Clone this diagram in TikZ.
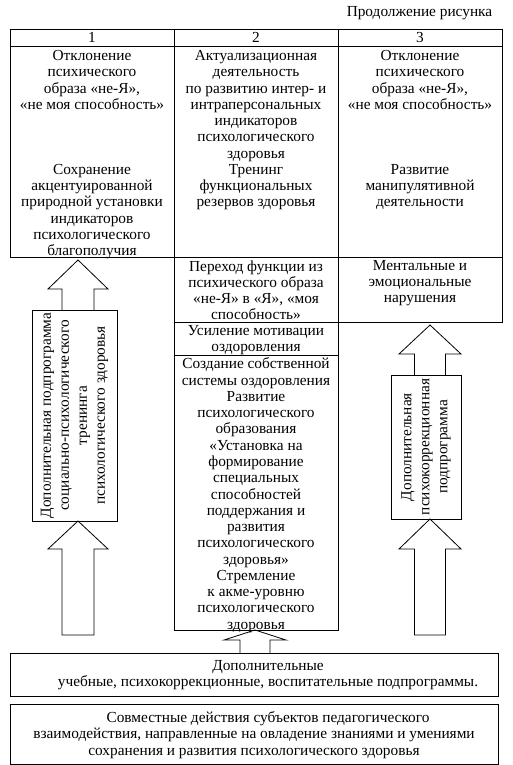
\documentclass[tikz,border=0pt]{standalone}
\usepackage{fontspec}
\setmainfont{Liberation Serif}
\usetikzlibrary{positioning}

\begin{document}
\begin{tikzpicture}[x=0.75pt, y=-0.75pt, line width=0.6pt,
    celltext/.style={align=center, inner sep=0pt, anchor=north,
        font=\fontsize{11.5}{12.2}\selectfont},
    sidetext/.style={align=center, inner sep=0pt, rotate=90,
        font=\fontsize{11.5}{13.5}\selectfont}]

\useasboundingbox (0,0) rectangle (512,765);

% Macro: hollow block arrow pointing up (cx, tip, head base, tail, head half, shaft half, end)
\newcommand{\blockarrow}[7]{
\begin{scope}[shift={(#1,0)}]
    \draw (-#6,#4) -- (-#6,#3) -- (-#5,#3) -- (0,#2) -- (#5,#3) -- (#6,#3) -- (#6,#4) #7;
\end{scope}
}

% Title
\node[celltext, anchor=center] (title) at (419.5,13) {Продолжение рисунка};

% Table frame
\draw (10,29) rectangle (502,46);
\draw (10,46) rectangle (502,257);
\foreach \x in {174, 338} {
    \draw (\x,29) -- (\x,257);
}
\foreach \n/\x in {1/92, 2/256, 3/420} {
    \node[celltext, anchor=center] (head\n) at (\x,37.5) {\n};
}

% First row
\node[celltext] (c1top) at (92,50) {Отклонение\\психического\\образа «не-Я»,\\«не моя способность»\\[3\baselineskip]Сохранение\\акцентуированной\\природной установки\\индикаторов\\психологического\\благополучия};
\node[celltext] (c2top) at (256,50) {Актуализационная\\деятельность\\по развитию интер- и\\интраперсональных\\индикаторов\\психологического\\здоровья\\Тренинг\\функциональных\\резервов здоровья};
\node[celltext] (c3top) at (420,50) {Отклонение\\психического\\образа «не-Я»,\\«не моя способность»\\[3\baselineskip]Развитие\\манипулятивной\\деятельности};

% Middle column
\draw (174,257) rectangle (338,630);
\draw (174,322) -- (338,322);
\draw (174,355) -- (338,355);
\node[celltext] (shift) at (256,260) {Переход функции из\\психического образа\\«не-Я» в «Я», «моя\\способность»};
\node[celltext] (motiv) at (256,325) {Усиление мотивации\\оздоровления};
\node[celltext] (own) at (256,357.5) {Создание собственной\\системы оздоровления\\Развитие\\психологического\\образования\\«Установка на\\формирование\\специальных\\способностей\\поддержания и\\развития\\психологического\\здоровья»\\Стремление\\к акме-уровню\\психологического\\здоровья};

% Right column
\draw (338,257) rectangle (502,322);
\node[celltext] (mental) at (420,260) {Ментальные и\\эмоциональные\\нарушения};

% Side programmes
\draw (32,310) rectangle (117,521);
\node[sidetext] (leftprog) at (74.5,415.5) {Дополнительная подпрограмма\\социально-психологического\\тренинга\\психологического здоровья};
\draw (391,375) rectangle (461,519);
\node[sidetext] (rightprog) at (426,447) {Дополнительная\\психокоррекционная\\подпрограмма};

% Block arrows
\blockarrow{78}{260}{289}{310}{30}{16}{}
\blockarrow{78}{521}{549}{635}{30}{16}{-- cycle}
\blockarrow{430}{325}{354}{375}{31}{15.5}{}
\blockarrow{430}{519}{549}{635}{31}{15.5}{-- cycle}
\blockarrow{255}{630}{640}{653}{31}{15}{}

% Bottom boxes
\draw (10,653) rectangle (498,696);
\node[celltext, anchor=center] (extra) at (268,675) {Дополнительные\\учебные, психокоррекционные, воспитательные подпрограммы.};
\draw (10,704) rectangle (498,764);
\node[celltext, anchor=center] (joint) at (254,735) {\hspace*{21pt}Совместные действия субъектов педагогического\\взаимодействия, направленные на овладение знаниями и умениями\\сохранения и развития психологического здоровья};

\end{tikzpicture}
\end{document}
